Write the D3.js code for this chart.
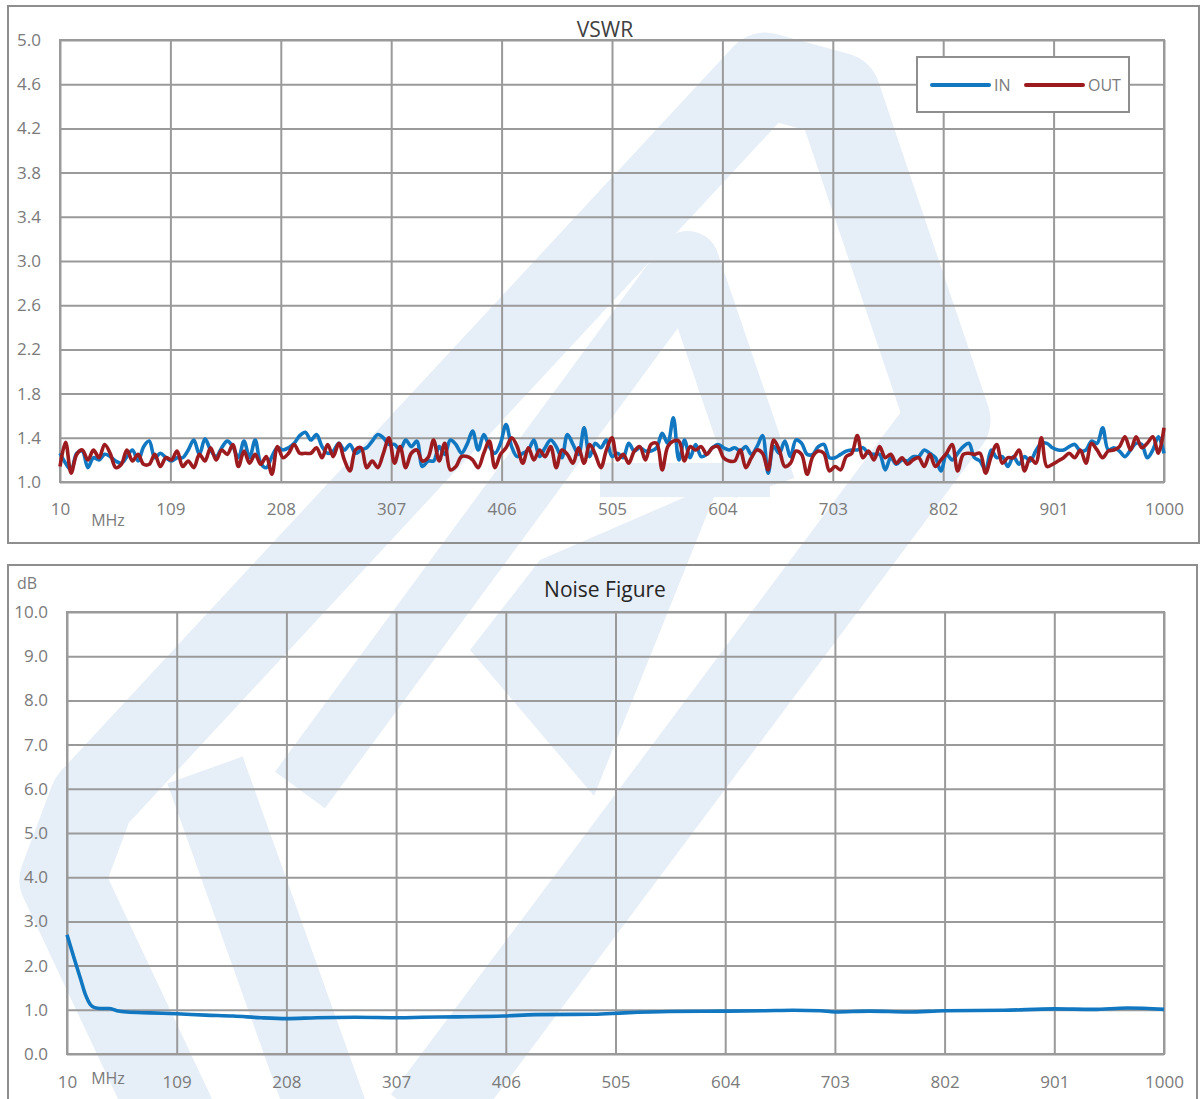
<!DOCTYPE html>
<html><head><meta charset="utf-8">
<script src="https://cdn.jsdelivr.net/npm/d3@7"></script>
<style>body{margin:0;background:#fff}svg{display:block}</style></head>
<body>
<svg id="c" width="1204" height="1099"></svg>
<script>
// ---------- DATA ----------
const freqTicks = [10,109,208,307,406,505,604,703,802,901,1000];
const vswrTicks = [1.0,1.4,1.8,2.2,2.6,3.0,3.4,3.8,4.2,4.6,5.0];
const nfTicks = [0,1,2,3,4,5,6,7,8,9,10];
const vswrFreqStart = 10, vswrFreqStep = 5;
const vswrIn = [
1.26,1.17,1.11,1.26,1.28,1.13,1.22,1.20,1.25,1.23,1.19,1.17,1.23,1.29,1.19,1.32,1.37,1.22,1.26,1.22,
1.19,1.22,1.22,1.29,1.38,1.25,1.39,1.29,1.23,1.31,1.37,1.32,1.22,1.37,1.22,1.38,1.17,1.13,1.23,1.31,
1.29,1.31,1.35,1.42,1.45,1.38,1.43,1.32,1.26,1.28,1.35,1.29,1.34,1.26,1.29,1.31,1.37,1.43,1.40,1.34,
1.34,1.29,1.38,1.32,1.37,1.14,1.19,1.19,1.32,1.25,1.38,1.34,1.26,1.34,1.46,1.29,1.43,1.32,1.26,1.35,
1.52,1.32,1.23,1.26,1.29,1.38,1.23,1.31,1.38,1.32,1.22,1.43,1.34,1.25,1.49,1.23,1.35,1.31,1.38,1.23,
1.26,1.22,1.35,1.28,1.31,1.28,1.28,1.31,1.44,1.35,1.58,1.20,1.38,1.22,1.34,1.23,1.25,1.31,1.34,1.31,
1.29,1.31,1.28,1.32,1.25,1.32,1.42,1.08,1.32,1.26,1.37,1.23,1.38,1.35,1.25,1.25,1.32,1.34,1.22,1.22,
1.25,1.28,1.29,1.29,1.31,1.26,1.25,1.25,1.11,1.22,1.16,1.20,1.19,1.23,1.23,1.29,1.26,1.22,1.10,1.25,
1.20,1.26,1.32,1.35,1.22,1.19,1.11,1.29,1.22,1.23,1.14,1.23,1.16,1.23,1.19,1.28,1.35,1.35,1.31,1.29,
1.29,1.32,1.34,1.28,1.29,1.37,1.35,1.49,1.29,1.31,1.28,1.23,1.29,1.35,1.34,1.22,1.29,1.41,1.26];
const vswrOut = [
1.14,1.36,1.08,1.25,1.29,1.20,1.29,1.22,1.34,1.26,1.13,1.16,1.29,1.19,1.25,1.16,1.16,1.25,1.14,1.22,
1.20,1.28,1.14,1.19,1.13,1.25,1.19,1.31,1.20,1.29,1.25,1.34,1.14,1.28,1.17,1.25,1.16,1.23,1.07,1.32,
1.22,1.26,1.34,1.26,1.26,1.26,1.31,1.22,1.34,1.23,1.35,1.20,1.10,1.29,1.31,1.13,1.19,1.13,1.26,1.40,
1.17,1.32,1.13,1.26,1.29,1.19,1.22,1.38,1.19,1.35,1.11,1.14,1.23,1.23,1.20,1.13,1.26,1.37,1.13,1.25,
1.31,1.40,1.32,1.17,1.31,1.20,1.29,1.23,1.32,1.13,1.29,1.25,1.17,1.31,1.17,1.34,1.25,1.13,1.29,1.40,
1.20,1.25,1.17,1.28,1.32,1.20,1.34,1.35,1.11,1.32,1.37,1.37,1.19,1.32,1.29,1.32,1.25,1.31,1.32,1.22,
1.19,1.19,1.29,1.13,1.22,1.29,1.26,1.11,1.38,1.29,1.14,1.17,1.28,1.25,1.07,1.23,1.28,1.26,1.10,1.14,
1.11,1.23,1.26,1.42,1.22,1.28,1.20,1.32,1.22,1.25,1.17,1.22,1.16,1.20,1.22,1.14,1.25,1.14,1.20,1.26,
1.34,1.10,1.25,1.26,1.25,1.26,1.08,1.23,1.34,1.17,1.22,1.22,1.29,1.10,1.22,1.17,1.40,1.14,1.16,1.19,
1.22,1.26,1.22,1.29,1.17,1.35,1.29,1.22,1.28,1.29,1.32,1.41,1.29,1.41,1.31,1.35,1.41,1.26,1.49];
const nfFreq = [10,16,22,27,31,35,40,48,55,64,85,109,135,160,185,208,235,270,310,330,360,404,433,485,513,554,604,640,665,690,703,734,769,802,856,901,936,967,1000];
const nfVal  = [2.70,2.20,1.72,1.32,1.12,1.05,1.03,1.03,0.98,0.95,0.93,0.91,0.88,0.86,0.82,0.80,0.82,0.83,0.82,0.83,0.84,0.86,0.89,0.90,0.93,0.96,0.97,0.98,0.99,0.98,0.95,0.97,0.95,0.98,0.99,1.02,1.01,1.04,1.01];
const seriesNames = ["IN","OUT"];

// ---------- STYLE ----------
const C_IN = "#1177c0", C_OUT = "#9c1b1f", GRID = "#9a9a9a", BORDER = "#8e8e8e", LBL = "#7a7a7a";
const FONT = "'Open Sans', 'Noto Sans', sans-serif";
const svg = d3.select("#c");

// ---------- WATERMARK (faint logo) ----------
const WM = "#e6eef7";
const wm = svg.append("g").attr("fill","none").attr("stroke",WM)
  .attr("stroke-linejoin","round").attr("stroke-linecap","butt");
const wmLine = d3.line();
wm.append("path").attr("stroke-width",85).attr("d", wmLine([[175,1120],[62,880],[92,800],[765,75],[838,95],[948,420],[425,1120]]));
wm.append("path").attr("stroke-width",62).attr("d", wmLine([[300,790],[688,262],[765,488]]));
wm.append("path").attr("stroke-width",34).attr("d", wmLine([[600,480],[770,480]]));
wm.append("path").attr("stroke-width",80).attr("d", wmLine([[205,770],[330,1120]]));
svg.append("path").attr("fill",WM).attr("d", d3.line()([[470,650],[540,560],[720,482],[594,796]]));

// ---------- CHART HELPERS ----------
function frame(x0,y0,x1,y1){
  svg.append("rect").attr("x",x0).attr("y",y0).attr("width",x1-x0).attr("height",y1-y0)
    .attr("fill","none").attr("stroke",BORDER).attr("stroke-width",2);
}
function axes(g, x, y, yTicks, yFmt, h, w, xPad){
  const ya = g.append("g").call(d3.axisLeft(y).tickValues(yTicks).tickFormat(yFmt).tickSize(-w).tickPadding(19));
  const xa = g.append("g").attr("transform",`translate(0,${h})`).call(d3.axisBottom(x).tickValues(freqTicks).tickFormat(d3.format("d")).tickSize(-h).tickPadding(xPad));
  [ya,xa].forEach(a=>{
    a.select(".domain").remove();
    a.selectAll("line").attr("stroke",GRID).attr("stroke-width",2);
    a.selectAll("text").attr("fill",LBL).style("font-family",FONT).style("font-size","17px");
  });
  g.append("rect").attr("width",w).attr("height",h).attr("fill","none").attr("stroke",GRID).attr("stroke-width",2);
}

// ---------- VSWR ----------
frame(8,6,1199,543);
{
  const L=60,T=40,R=1164,B=482, w=R-L, h=B-T;
  const g = svg.append("g").attr("transform",`translate(${L},${T})`);
  const x = d3.scaleLinear().domain([10,1000]).range([0,w]);
  const y = d3.scaleLinear().domain([1,5]).range([h,0]);
  axes(g,x,y,vswrTicks,d3.format(".1f"),h,w,21);
  const line = d3.line().x((d,i)=>x(vswrFreqStart+i*vswrFreqStep)).y(d=>y(d)).curve(d3.curveCatmullRom.alpha(0.5));
  g.append("path").attr("d",line(vswrIn)).attr("fill","none").attr("stroke",C_IN).attr("stroke-width",3.6).attr("stroke-linejoin","round");
  g.append("path").attr("d",line(vswrOut)).attr("fill","none").attr("stroke",C_OUT).attr("stroke-width",3.6).attr("stroke-linejoin","round");
  svg.append("text").attr("x",605).attr("y",37).attr("text-anchor","middle").attr("fill","#404040")
    .style("font-family",FONT).style("font-size","21px").text("VSWR");
  svg.append("text").attr("x",108).attr("y",526).attr("text-anchor","middle").attr("fill",LBL)
    .style("font-family",FONT).style("font-size","16px").text("MHz");
  // legend
  const lg = svg.append("g");
  lg.append("rect").attr("x",917).attr("y",57).attr("width",212).attr("height",55).attr("fill","#fff").attr("stroke",BORDER).attr("stroke-width",2);
  const cols=[C_IN,C_OUT], lx=[932,1026];
  seriesNames.forEach((n,i)=>{
    lg.append("line").attr("x1",lx[i]).attr("x2",lx[i]+57).attr("y1",85).attr("y2",85).attr("stroke",cols[i]).attr("stroke-width",4).attr("stroke-linecap","round");
    lg.append("text").attr("x",lx[i]+62).attr("y",91).attr("fill",LBL).style("font-family",FONT).style("font-size","16px").text(n);
  });
}

// ---------- NOISE FIGURE ----------
frame(8,565,1197,1120);
{
  const L=67,T=612,R=1164,B=1054, w=R-L, h=B-T;
  const g = svg.append("g").attr("transform",`translate(${L},${T})`);
  const x = d3.scaleLinear().domain([10,1000]).range([0,w]);
  const y = d3.scaleLinear().domain([0,10]).range([h,0]);
  axes(g,x,y,nfTicks,d3.format(".1f"),h,w,22);
  const line = d3.line().x((d,i)=>x(nfFreq[i])).y(d=>y(d)).curve(d3.curveMonotoneX);
  g.append("path").attr("d",line(nfVal)).attr("fill","none").attr("stroke",C_IN).attr("stroke-width",3.6).attr("stroke-linejoin","round");
  svg.append("text").attr("x",605).attr("y",597).attr("text-anchor","middle").attr("fill","#262626")
    .style("font-family",FONT).style("font-size","21px").text("Noise Figure");
  svg.append("text").attr("x",108).attr("y",1084).attr("text-anchor","middle").attr("fill",LBL)
    .style("font-family",FONT).style("font-size","16px").text("MHz");
  svg.append("text").attr("x",17).attr("y",589).attr("fill",LBL)
    .style("font-family",FONT).style("font-size","16px").text("dB");
}
</script>
</body></html>
